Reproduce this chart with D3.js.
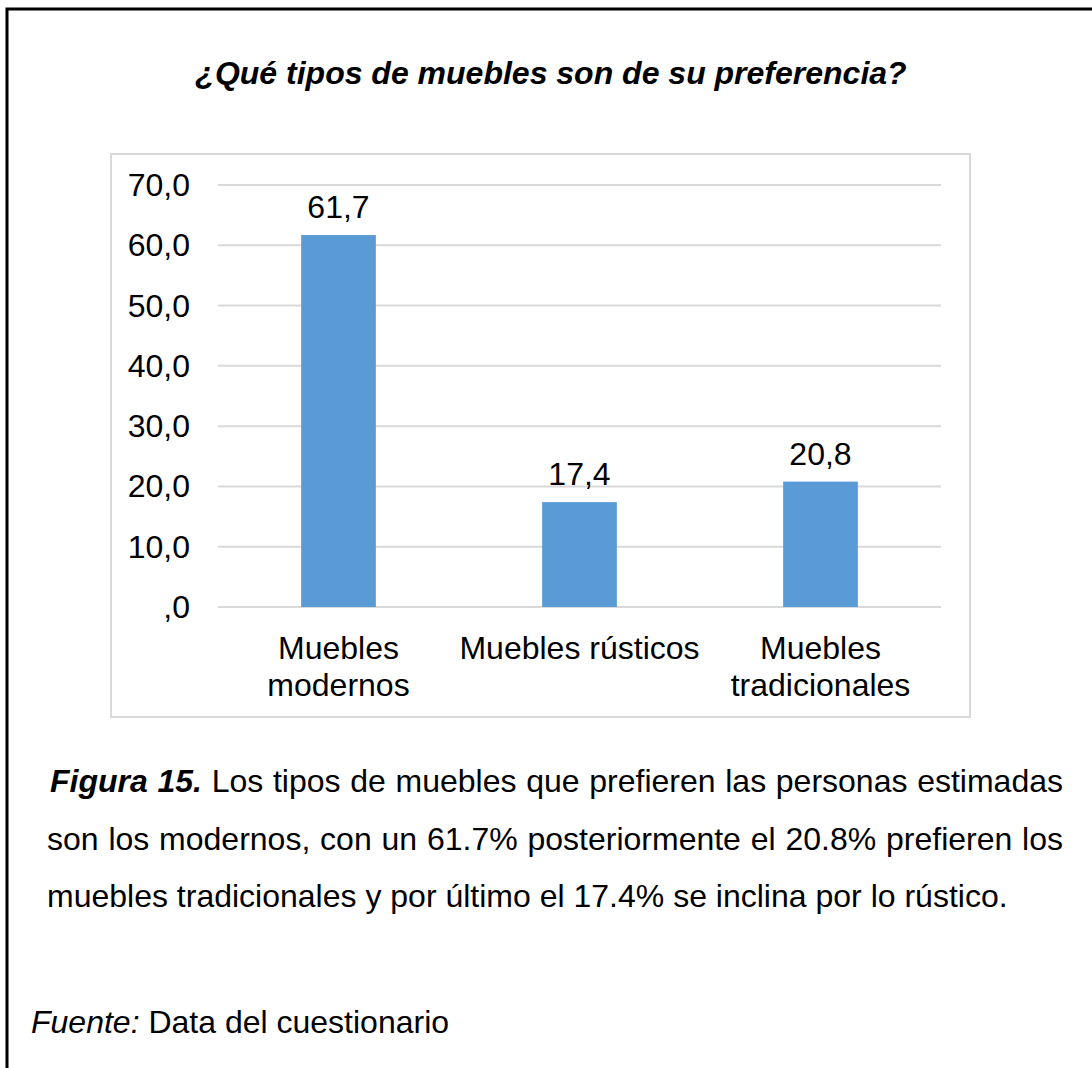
<!DOCTYPE html>
<html>
<head>
<meta charset="utf-8">
<script src="https://cdn.jsdelivr.net/npm/d3@7"></script>
<style>
  body { margin: 0; background: #fff; }
  svg { display: block; font-family: "Liberation Sans", Arial, sans-serif; }
</style>
</head>
<body>
<svg id="chart"></svg>
<script>
// data
const categories = [["Muebles", "modernos"], ["Muebles rústicos"], ["Muebles", "tradicionales"]];
const values = [61.7, 17.4, 20.8];
const tickValues = [0, 10, 20, 30, 40, 50, 60, 70];
const title = "¿Qué tipos de muebles son de su preferencia?";
const captionLines = [
  [["Figura 15.", "bold"], ["Los tipos de muebles que prefieren las personas estimadas", "normal"]],
  [["son los modernos, con un 61.7% posteriormente el 20.8% prefieren los", "normal"]],
  [["muebles tradicionales y por último el 17.4% se inclina por lo rústico.", "normal"]]
];

const W = 1092, H = 1068;
let svg = d3.select("#chart").attr("width", W).attr("height", H);

// page border (top and left visible)
svg.append("path")
  .attr("d", "M7," + H + "V9H" + W)
  .attr("fill", "none")
  .attr("stroke", "#000")
  .attr("stroke-width", 3);

// title
svg.append("text")
  .attr("x", 551)
  .attr("y", 84)
  .attr("text-anchor", "middle")
  .attr("font-size", "32px")
  .attr("font-weight", "bold")
  .attr("font-style", "italic")
  .text(title);

// chart frame
svg.append("rect")
  .attr("x", 111).attr("y", 154)
  .attr("width", 859).attr("height", 563)
  .attr("fill", "#fff")
  .attr("stroke", "#d9d9d9")
  .attr("stroke-width", 2);

let plot = { left: 218, right: 941, top: 185, bottom: 607 };

let xScale = d3.scaleBand().domain(d3.range(categories.length)).range([plot.left, plot.right]),
  yScale = d3.scaleLinear().domain([0, 70]).range([plot.bottom, plot.top]);

const fmt = (v) => (v === 0 ? ",0" : d3.format(".1f")(v).replace(".", ","));

// gridlines
svg.append("g")
  .selectAll("line")
  .data(tickValues)
  .enter()
  .append("line")
  .attr("x1", plot.left).attr("x2", plot.right)
  .attr("y1", (d) => yScale(d)).attr("y2", (d) => yScale(d))
  .attr("stroke", "#d9d9d9")
  .attr("stroke-width", 2);

// y tick labels
svg.append("g")
  .selectAll("text")
  .data(tickValues)
  .enter()
  .append("text")
  .attr("x", 190)
  .attr("y", (d) => yScale(d) + 11)
  .attr("text-anchor", "end")
  .attr("font-size", "32px")
  .attr("fill", "#000")
  .text(fmt);

let barW = xScale.bandwidth() * 0.31;

svg.append("g")
  .selectAll("rect")
  .data(values)
  .enter()
  .append("rect")
  .attr("x", (d, i) => xScale(i) + (xScale.bandwidth() - barW) / 2)
  .attr("y", (d) => yScale(d))
  .attr("width", barW)
  .attr("height", (d) => yScale(0) - yScale(d))
  .attr("fill", "#5b9bd5");

// data labels
svg.append("g")
  .selectAll("text")
  .data(values)
  .enter()
  .append("text")
  .attr("x", (d, i) => xScale(i) + xScale.bandwidth() / 2)
  .attr("y", (d) => yScale(d) - 17)
  .attr("text-anchor", "middle")
  .attr("font-size", "32px")
  .text(fmt);

// category labels
let cat = svg.append("g")
  .selectAll("text")
  .data(categories)
  .enter()
  .append("text")
  .attr("text-anchor", "middle")
  .attr("font-size", "32px");
cat.selectAll("tspan")
  .data((d, i) => d.map((t) => ({ t: t, i: i })))
  .enter()
  .append("tspan")
  .attr("x", (d) => xScale(d.i) + xScale.bandwidth() / 2)
  .attr("y", (d, j) => 659 + j * 37)
  .text((d) => d.t);

// caption, justified like the document
let capLeft = [50, 47, 47], capRight = 1063, capBase = 792, capStep = 57.5;
captionLines.forEach((line, li) => {
  let words = [];
  line.forEach(([txt, style]) => txt.split(" ").forEach((w) => words.push({ w: w, style: style })));
  let g = svg.append("g");
  let nodes = g.selectAll("text")
    .data(words)
    .enter()
    .append("text")
    .attr("y", capBase + li * capStep)
    .attr("font-size", "32px")
    .attr("font-weight", (d) => (d.style === "bold" ? "bold" : "normal"))
    .attr("font-style", (d) => (d.style === "bold" ? "italic" : "normal"))
    .text((d) => d.w);
  let widths = nodes.nodes().map((n) => n.getComputedTextLength());
  let total = d3.sum(widths);
  let last = li === captionLines.length - 1;
  let gap = last ? 8.9 : (capRight - capLeft[li] - total) / (words.length - 1);
  let x = capLeft[li];
  nodes.attr("x", (d, i) => {
    let xi = x;
    x += widths[i] + gap;
    return xi;
  });
});

// source
let src = svg.append("text").attr("x", 31).attr("y", 1033).attr("font-size", "32px");
src.append("tspan").attr("font-style", "italic").text("Fuente:");
src.append("tspan").text(" Data del cuestionario");
</script>
</body>
</html>
